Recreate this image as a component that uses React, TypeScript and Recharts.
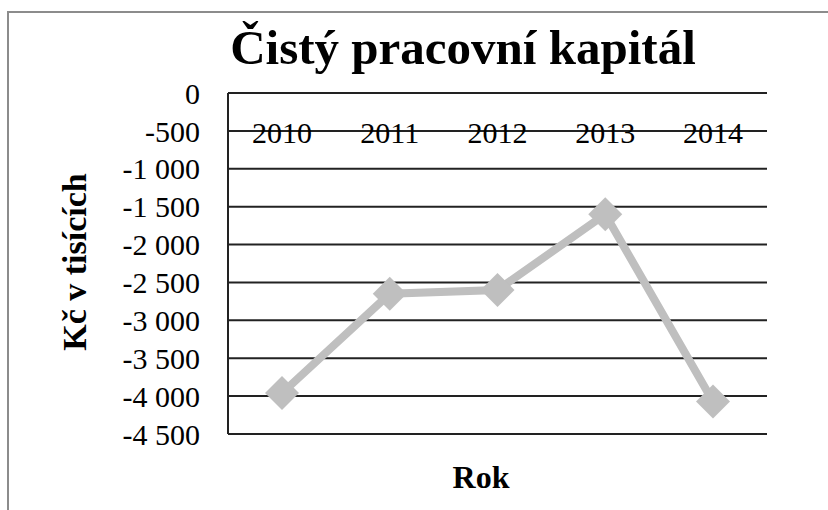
import { CartesianGrid, Line, LineChart, XAxis, YAxis } from 'recharts'

const years = ['2010', '2011', '2012', '2013', '2014']
const capital = [-3960, -2650, -2600, -1600, -4070]
const yTicks = [0, -500, -1000, -1500, -2000, -2500, -3000, -3500, -4000, -4500]

const title = 'Čistý pracovní kapitál'
const yTitle = 'Kč v tisících'
const xTitle = 'Rok'

const data = years.map((year, i) => ({ year, value: capital[i] }))

const FONT = '"Liberation Serif", "Times New Roman", serif'
const GREY = '#BFBFBF'

// thousands separated by a space, like the Czech Excel original
const fmt = (v: number) => {
  const s = Math.abs(v).toString().replace(/\B(?=(\d{3})+(?!\d))/g, ' ')
  return v < 0 ? '-' + s : s
}

const Diamond = (props: any) => {
  const { cx, cy } = props
  if (cx == null || cy == null) return null
  const r = 17
  return (
    <path
      d={`M${cx},${cy - r} L${cx + r},${cy} L${cx},${cy + r} L${cx - r},${cy} Z`}
      fill={GREY}
    />
  )
}

export default function App() {
  return (
    <div
      style={{
        position: 'absolute',
        left: 0,
        top: 0,
        width: 828,
        height: 510,
        overflow: 'hidden',
        background: '#fff',
      }}
    >
      <div
        style={{
          position: 'absolute',
          left: 7,
          top: 11,
          width: 900,
          height: 600,
          borderLeft: '2px solid #8c8c8c',
          borderTop: '2px solid #8c8c8c',
        }}
      />
      <LineChart
        width={828}
        height={510}
        data={data}
        margin={{ top: 93, right: 61, bottom: 76, left: 0 }}
        style={{ position: 'absolute', left: 0, top: 0 }}
      >
        <CartesianGrid vertical={false} stroke="#222" strokeWidth={2} />
        <XAxis
          dataKey="year"
          orientation="top"
          mirror
          height={1}
          interval={0}
          padding={{ left: 54, right: 54 }}
          axisLine={false}
          tickLine={false}
          tickSize={0}
          tickMargin={29}
          tick={{ fill: '#000', fontSize: 30, fontFamily: FONT }}
        />
        <YAxis
          domain={[-4500, 0]}
          ticks={yTicks}
          width={228}
          interval={0}
          tickFormatter={fmt}
          axisLine={{ stroke: '#222', strokeWidth: 2 }}
          tickLine={false}
          tickSize={0}
          tickMargin={28}
          tick={{ fill: '#000', fontSize: 30, fontFamily: FONT }}
        />
        <Line
          dataKey="value"
          stroke={GREY}
          strokeWidth={8}
          dot={<Diamond />}
          activeDot={false}
          isAnimationActive={false}
        />
        <text
          x={463}
          y={64}
          textAnchor="middle"
          fontFamily={FONT}
          fontWeight="bold"
          fontSize={49}
          fill="#000"
        >
          {title}
        </text>
        <text
          x={481}
          y={488}
          textAnchor="middle"
          fontFamily={FONT}
          fontWeight="bold"
          fontSize={32}
          fill="#000"
        >
          {xTitle}
        </text>
        <text
          x={86}
          y={262}
          textAnchor="middle"
          transform="rotate(-90 86 262)"
          fontFamily={FONT}
          fontWeight="bold"
          fontSize={34}
          fill="#000"
        >
          {yTitle}
        </text>
      </LineChart>
    </div>
  )
}
